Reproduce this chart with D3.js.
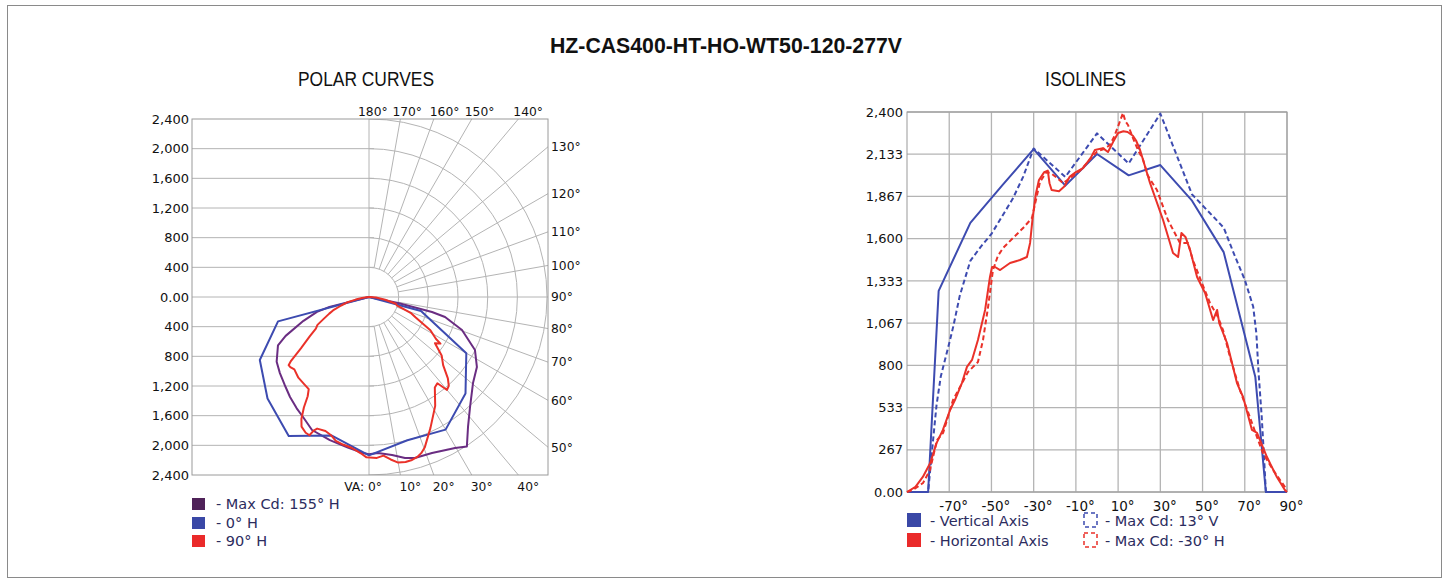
<!DOCTYPE html>
<html><head><meta charset="utf-8">
<script src="https://cdn.jsdelivr.net/npm/d3@7/dist/d3.min.js"></script>
<style>
html,body{margin:0;padding:0;background:#fff;}
svg{display:block;}
</style></head><body>
<svg id="chart" width="1449" height="583"></svg>
<script>
// ---------- DATA ----------
const chartTitle = "HZ-CAS400-HT-HO-WT50-120-277V";
const polarTitle = "POLAR CURVES";
const isoTitle = "ISOLINES";

// Polar chart ticks
const polarCdTicks = [2400, 2000, 1600, 1200, 800, 400, 0, -400, -800, -1200, -1600, -2000, -2400];
const polarRings = [400, 800, 1200, 1600, 2000, 2400];
const polarAngles = [0, 10, 20, 30, 40, 50, 60, 70, 80, 90, 100, 110, 120, 130, 140, 150, 160, 170, 180];

// Vertical Axis (= polar 0° H), angle (deg, 0 = nadir) / candela
const verticalAngles = [-90, -80, -75, -60, -45, -30, -15, 0, 15, 30, 45, 60, 75, 80, 90];
const verticalCd     = [0, 0, 1270, 1700, 1935, 2165, 1935, 2135, 2000, 2065, 1840, 1515, 726, 0, 0];

// Max Cd: 13° V (dashed blue)
const maxVAngles = [-90, -80, -78, -76, -74, -70, -68, -65, -60, -55, -50, -45, -40, -35, -30, -15, 0, 15, 30, 45, 60, 65, 70, 74, 75.5, 76.5, 78, 79, 80, 90];
const maxVCd     = [0, 0, 280, 550, 730, 940, 1050, 1240, 1460, 1550, 1630, 1740, 1850, 1990, 2170, 1990, 2265, 2075, 2390, 1880, 1670, 1500, 1340, 1170, 1000, 760, 480, 250, 0, 0];

// Horizontal Axis (= polar 90° H)
const horizAngles = [-90, -86, -82.5, -79, -76, -73, -69.6, -67.3, -64, -61.6, -59.2, -56.4, -53, -50.7, -49.7, -48.3, -45.9, -41.2, -36.5, -33.2, -31.7, -30.5, -29, -27.5, -25, -23.3, -22.5, -21.5, -18, -15.5, -13, -10, -6.6, -3, -1, 2.8, 5.2, 7.6, 10, 12.5, 14.5, 17, 18.5, 20.4, 25.1, 31.3, 36, 38.4, 40, 41.9, 44.1, 47.4, 51.2, 55, 56.9, 57.9, 61.6, 66.3, 69.2, 73.4, 75.8, 80.5, 85.2, 89, 90];
const horizCd     = [0, 32, 95, 183, 309, 392, 518, 581, 688, 790, 834, 960, 1150, 1358, 1421, 1421, 1402, 1446, 1465, 1484, 1573, 1730, 1880, 1970, 2020, 2030, 1950, 1907, 1900, 1930, 1990, 2020, 2046, 2110, 2160, 2172, 2147, 2210, 2267, 2278, 2274, 2250, 2220, 2160, 1952, 1718, 1510, 1484, 1636, 1611, 1528, 1358, 1257, 1086, 1150, 1067, 941, 688, 600, 392, 373, 221, 95, 13, 0];

// Max Cd: -30° H (dashed red)
const maxHAngles = [-90, -87.2, -82.4, -79.1, -75.8, -72.9, -70.6, -68.2, -64.9, -61.1, -58.7, -56.4, -54, -51.6, -49.3, -47, -44.5, -39.8, -35, -30.8, -28.4, -27, -24, -22, -19, -16, -12, -8, -4, 0, 3, 6, 8, 10, 12.3, 13.5, 14.7, 17, 19.4, 21.8, 24, 28.4, 33.6, 39.3, 43.1, 45.4, 49.7, 53.5, 57.3, 59.7, 63, 67.7, 72.4, 76.3, 78.6, 83.4, 87.7, 90];
const maxHCd     = [0, 13, 57, 139, 328, 373, 474, 581, 663, 758, 790, 821, 960, 1168, 1400, 1490, 1541, 1604, 1667, 1731, 1876, 1958, 2020, 2015, 1985, 1950, 1990, 2030, 2090, 2150, 2165, 2190, 2240, 2310, 2394, 2340, 2318, 2236, 2160, 2100, 2000, 1907, 1718, 1573, 1573, 1465, 1320, 1194, 1105, 1023, 853, 644, 474, 328, 246, 139, 57, 13];

// Polar Max Cd: 155° H (purple)
const max155Angles = [-90, -80, -76, -74, -70, -65, -62, -55, -49.5, -44, -38.3, -33, -28.8, -23.2, -15.3, -8, -2.2, 0, 3.3, 8.3, 12.6, 15.9, 22, 29.7, 33.2, 37.3, 42.6, 50.4, 57, 63.4, 70.5, 75.3, 76.6, 78.3, 80, 90];
const max155Cd     = [0, 0, 550, 730, 940, 1240, 1390, 1520, 1580, 1640, 1718, 1790, 1846, 1951, 2000, 2050, 2105, 2120, 2107, 2153, 2225, 2257, 2268, 2343, 2410, 2203, 2013, 1820, 1735, 1598, 1330, 1060, 873, 400, 0, 0];

// Isolines ticks
const isoXTicks = [-70, -50, -30, -10, 10, 30, 50, 70, 90];
const isoXLabels = ["-70°", "-50°", "-30°", "-10°", "10°", "30°", "50°", "70°", "90°"];
const isoYTicks = [0, 266.67, 533.33, 800, 1066.67, 1333.33, 1600, 1866.67, 2133.33, 2400];
const isoYLabels = ["0.00", "267", "533", "800", "1,067", "1,333", "1,600", "1,867", "2,133", "2,400"];

const polarLegend = ["- Max Cd: 155° H", "- 0° H", "- 90° H"];
const isoLegendSolid = ["- Vertical Axis", "- Horizontal Axis"];
const isoLegendDashed = ["- Max Cd: 13° V", "- Max Cd: -30° H"];

// ---------- STYLE ----------
const C = {
  blue: "#3d4bb0", red: "#ea3129", purple: "#6a2d82",
  purpleKey: "#4f2259", blueKey: "#3a48a6", redKey: "#ea2a2a",
  grid: "#b4b4b4", frame: "#9a9a9a", text: "#111", legendText: "#2c2c5e"
};
const LABEL_FONT = "'DejaVu Sans', Verdana, sans-serif";
const SANS = "'Liberation Sans', Arial, sans-serif";
// label offsets for angle labels on top edge (start x relative to line end)
const topLabelOffset = { 180: -11, 170: -8, 160: -4, 150: -7, 140: -5 };

const zip = (a, b) => a.map((v, i) => [v, b[i]]);
const svg = d3.select("#chart");

// outer frame
svg.append("rect").attr("x", 7.5).attr("y", 5.5).attr("width", 1434).attr("height", 572)
  .attr("fill", "none").attr("stroke", "#8a8a8a").attr("stroke-width", 1);

// titles (condensed look via glyph scaling)
svg.append("text").attr("x", 726).attr("y", 53).attr("text-anchor", "middle")
  .attr("font-family", SANS).attr("font-weight", "bold").attr("font-size", 21.5)
  .attr("textLength", 352).attr("lengthAdjust", "spacingAndGlyphs")
  .attr("fill", "#111").text(chartTitle);
svg.append("text").attr("x", 366).attr("y", 86).attr("text-anchor", "middle")
  .attr("font-family", SANS).attr("font-size", 20)
  .attr("textLength", 136).attr("lengthAdjust", "spacingAndGlyphs")
  .attr("fill", "#111").text(polarTitle);
svg.append("text").attr("x", 1085.5).attr("y", 86).attr("text-anchor", "middle")
  .attr("font-family", SANS).attr("font-size", 20)
  .attr("textLength", 81).attr("lengthAdjust", "spacingAndGlyphs")
  .attr("fill", "#111").text(isoTitle);

// ================= POLAR =================
const cx = 369, cy = 297, R = 178;
const x0 = cx - 177, x1 = cx + 179, y0 = cy - R, y1 = cy + R;
const rScale = d3.scaleLinear().domain([0, 2400]).range([0, R]);
const polarY = d3.scaleLinear().domain([2400, -2400]).range([y0, y1]);

const pg = svg.append("g");
svg.append("defs").append("clipPath").attr("id", "rightHalf")
  .append("rect").attr("x", cx).attr("y", y0).attr("width", x1 - cx).attr("height", y1 - y0);

// horizontal lines (left half)
pg.selectAll("line.h").data(polarCdTicks.filter(v => Math.abs(v) !== 2400)).enter().append("line")
  .attr("x1", x0).attr("x2", v => v === 0 ? x1 : cx + 5)
  .attr("y1", v => polarY(v)).attr("y2", v => polarY(v))
  .attr("stroke", C.grid).attr("stroke-width", 1);

// rings (right half)
const ringG = pg.append("g").attr("clip-path", "url(#rightHalf)");
polarRings.forEach(v => {
  const p = d3.path();
  const rr = rScale(v);
  p.moveTo(cx, cy - rr);
  p.arc(cx, cy, rr, -Math.PI / 2, Math.PI / 2, false);
  ringG.append("path").attr("d", p.toString()).attr("fill", "none")
    .attr("stroke", C.grid).attr("stroke-width", 1);
});

// radial lines + angle labels
function radialEnd(t) {
  const a = t * Math.PI / 180, s = Math.sin(a), c = Math.cos(a);
  let rho = Infinity, side = "right";
  if (s > 1e-9) { rho = (x1 - cx) / s; }
  if (Math.abs(c) > 1e-9) {
    const rv = R / Math.abs(c);
    if (rv <= rho) { rho = rv; side = c > 0 ? "bottom" : "top"; }
  }
  return { x: cx + rho * s, y: cy + rho * c, side, s, c, rho };
}
polarAngles.forEach(t => {
  const e = radialEnd(t);
  if (t !== 0 && t !== 180 && t !== 90) {
    const r0 = rScale(400);
    pg.append("line").attr("x1", cx + r0 * e.s).attr("y1", cy + r0 * e.c)
      .attr("x2", e.x).attr("y2", e.y).attr("stroke", C.grid).attr("stroke-width", 1);
  }
  const lab = pg.append("text").attr("font-family", LABEL_FONT).attr("font-size", 12.3).attr("fill", C.text);
  if (e.side === "top") {
    lab.attr("x", e.x + (topLabelOffset[t] ?? -6)).attr("y", y0 - 3).attr("text-anchor", "start").text(t + "°");
  } else if (e.side === "bottom") {
    if (t === 0) lab.attr("x", e.x + 13).attr("y", y1 + 16).attr("text-anchor", "end").text("VA: 0°");
    else lab.attr("x", e.x - 1).attr("y", y1 + 16).attr("text-anchor", "start").text(t + "°");
  } else {
    lab.attr("x", x1 + 3).attr("y", e.y).attr("dy", "0.35em").attr("text-anchor", "start").text(t + "°");
  }
});

// centre vertical line
pg.append("line").attr("x1", cx).attr("x2", cx).attr("y1", y0).attr("y2", y1)
  .attr("stroke", C.grid).attr("stroke-width", 1);
// frame
pg.append("rect").attr("x", x0).attr("y", y0).attr("width", x1 - x0).attr("height", y1 - y0)
  .attr("fill", "none").attr("stroke", C.frame).attr("stroke-width", 1);

// left axis labels
const polarAxis = d3.axisLeft(polarY).tickValues(polarCdTicks).tickSize(0).tickPadding(3)
  .tickFormat(v => v === 0 ? "0.00" : d3.format(",")(Math.abs(v)));
const pax = pg.append("g").attr("transform", `translate(${x0},0)`).call(polarAxis);
pax.select(".domain").remove();
pax.selectAll("text").attr("font-family", LABEL_FONT).attr("font-size", 13).attr("fill", C.text);

// curves
const radialLine = d3.lineRadial()
  .angle(d => Math.PI - d[0] * Math.PI / 180)
  .radius(d => rScale(d[1]));
const curveG = pg.append("g").attr("transform", `translate(${cx},${cy})`);
[[zip(max155Angles, max155Cd), C.purple], [zip(verticalAngles, verticalCd), C.blue], [zip(horizAngles, horizCd), C.red]]
  .forEach(([d, col]) => {
    curveG.append("path").attr("d", radialLine(d)).attr("fill", "none")
      .attr("stroke", col).attr("stroke-width", 2).attr("stroke-linejoin", "round");
  });

// polar legend
const plColors = [C.purpleKey, C.blueKey, C.redKey];
const plY = [498, 517, 535];
polarLegend.forEach((t, i) => {
  pg.append("rect").attr("x", 192).attr("y", plY[i]).attr("width", 13).attr("height", 12).attr("fill", plColors[i]);
  pg.append("text").attr("x", 216).attr("y", plY[i] + 11).attr("font-family", LABEL_FONT)
    .attr("font-size", 14.5).attr("fill", C.legendText).text(t);
});

// ================= ISOLINES =================
const ix0 = 907, ix1 = 1287, iy0 = 112, iy1 = 492;
const isoX = d3.scaleLinear().domain([-90, 90]).range([ix0, ix1]);
const isoY = d3.scaleLinear().domain([0, 2400]).range([iy1, iy0]);
const ig = svg.append("g");

ig.selectAll("line.v").data(isoXTicks).enter().append("line")
  .attr("x1", d => isoX(d)).attr("x2", d => isoX(d)).attr("y1", iy0).attr("y2", iy1)
  .attr("stroke", C.grid).attr("stroke-width", 1.3);
ig.selectAll("line.hh").data(isoYTicks).enter().append("line")
  .attr("x1", ix0).attr("x2", ix1).attr("y1", d => isoY(d)).attr("y2", d => isoY(d))
  .attr("stroke", C.grid).attr("stroke-width", 1.3);
ig.append("rect").attr("x", ix0).attr("y", iy0).attr("width", ix1 - ix0).attr("height", iy1 - iy0)
  .attr("fill", "none").attr("stroke", C.frame).attr("stroke-width", 1);

const yAx = ig.append("g").attr("transform", `translate(${ix0},0)`)
  .call(d3.axisLeft(isoY).tickValues(isoYTicks).tickSize(0).tickPadding(4).tickFormat((d, i) => isoYLabels[i]));
yAx.select(".domain").remove();
yAx.selectAll("text").attr("font-family", LABEL_FONT).attr("font-size", 13).attr("fill", C.text);
const xAx = ig.append("g").attr("transform", `translate(0,${iy1})`)
  .call(d3.axisBottom(isoX).tickValues(isoXTicks).tickSize(0).tickPadding(9).tickFormat((d, i) => isoXLabels[i]));
xAx.select(".domain").remove();
xAx.selectAll("text").attr("font-family", LABEL_FONT).attr("font-size", 13.5).attr("fill", C.text).attr("dx", 4);

const isoLine = d3.line().x(d => isoX(d[0])).y(d => isoY(d[1]));
[
  [zip(verticalAngles, verticalCd), C.blue, null],
  [zip(maxVAngles, maxVCd), C.blue, "5,3"],
  [zip(horizAngles, horizCd), C.red, null],
  [zip(maxHAngles, maxHCd), C.red, "5,3"]
].forEach(([d, col, dash]) => {
  const p = ig.append("path").attr("d", isoLine(d)).attr("fill", "none")
    .attr("stroke", col).attr("stroke-width", 2).attr("stroke-linejoin", "round");
  if (dash) p.attr("stroke-dasharray", dash);
});

// isolines legend
const ilY = [513, 533];
const ilCol = [C.blueKey, C.redKey];
const ilLine = [C.blue, C.red];
isoLegendSolid.forEach((t, i) => {
  ig.append("rect").attr("x", 907).attr("y", ilY[i]).attr("width", 14).attr("height", 14).attr("fill", ilCol[i]);
  ig.append("text").attr("x", 930).attr("y", ilY[i] + 13).attr("font-family", LABEL_FONT)
    .attr("font-size", 14.5).attr("fill", C.legendText).text(t);
});
isoLegendDashed.forEach((t, i) => {
  ig.append("rect").attr("x", 1084).attr("y", ilY[i]).attr("width", 13).attr("height", 14)
    .attr("fill", "none").attr("stroke", ilLine[i]).attr("stroke-width", 1.5).attr("stroke-dasharray", "4,3");
  ig.append("text").attr("x", 1105).attr("y", ilY[i] + 13).attr("font-family", LABEL_FONT)
    .attr("font-size", 14.5).attr("fill", C.legendText).text(t);
});
</script>
</body></html>
